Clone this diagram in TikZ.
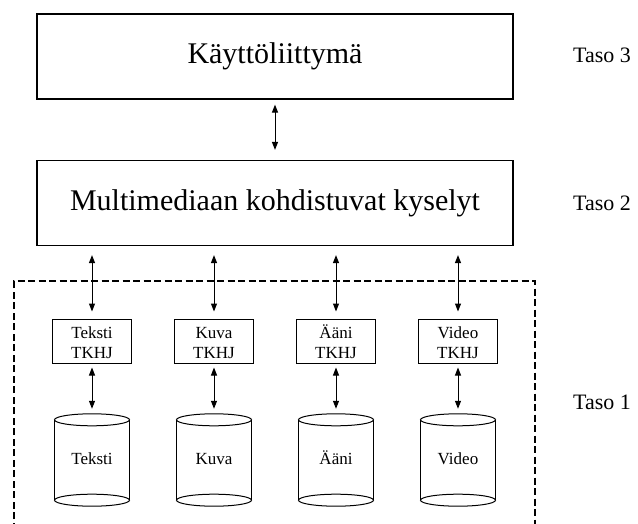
\documentclass[tikz,border=0pt]{standalone}
\usepackage{fontspec}
\setmainfont{Liberation Serif}
\usetikzlibrary{arrows.meta}
\begin{document}
\begin{tikzpicture}[x=1pt,y=-1pt,
  bigbox/.style={draw, line width=1.2pt, minimum width=476pt, minimum height=85pt, inner sep=0pt, font=\fontsize{30}{36}\selectfont},
  tkhj/.style={draw, line width=1pt, minimum width=79pt, minimum height=44pt, inner sep=0pt, align=center, font=\fontsize{17}{20}\selectfont},
  level/.style={anchor=west, inner sep=0pt, font=\fontsize{22}{26}\selectfont},
  arr/.style={{Triangle[length=8pt,width=6pt]}-{Triangle[length=8pt,width=6pt]}, line width=1pt},
  cylbody/.style={minimum width=75pt, minimum height=92pt, inner sep=0pt, text height=12pt, text depth=4pt, font=\fontsize{17}{20}\selectfont},
  cylline/.style={line width=1pt},
  dashbox/.style={line width=2.8pt, dash pattern=on 7pt off 3.5pt}
]
\useasboundingbox (0,0) rectangle (638,524);
\clip (0,0) rectangle (638,524);

% level 3 and 2 boxes
\node[bigbox] (ui) at (275,56.5) {Käyttöliittymä};
\node[bigbox] (mq) at (275,203) {Multimediaan kohdistuvat kyselyt};

% level labels
\node[level] (l3) at (573,55) {Taso 3};
\node[level] (l2) at (573,203) {Taso 2};
\node[level] (l1) at (573,402) {Taso 1};

% dashed level-1 frame
\draw[dashbox] (14,540) -- (14,281) -- (535,281) -- (535,540);

% TKHJ boxes
\newcommand{\hstrut}{\rule{0pt}{15pt}}
\node[tkhj] (t1) at (92,341) {\hstrut Teksti\\TKHJ};
\node[tkhj] (t2) at (214,341) {\hstrut Kuva\\TKHJ};
\node[tkhj] (t3) at (336,341) {\hstrut Ääni\\TKHJ};
\node[tkhj] (t4) at (458,341) {\hstrut Video\\TKHJ};

% cylinders
\node[cylbody] (c1) at (92,460) {Teksti};
\node[cylbody] (c2) at (214,460) {Kuva};
\node[cylbody] (c3) at (336,460) {Ääni};
\node[cylbody] (c4) at (458,460) {Video};
\foreach \c in {c1,c2,c3,c4}{
  \draw[cylline] ([yshift=-6pt]\c.north) ellipse [x radius=37.5pt, y radius=6pt];
  \draw[cylline] ([yshift=6pt]\c.south) ellipse [x radius=37.5pt, y radius=6pt];
  \draw[cylline] ([yshift=-6pt]\c.north west) -- ([yshift=6pt]\c.south west);
  \draw[cylline] ([yshift=-6pt]\c.north east) -- ([yshift=6pt]\c.south east);
}

% connectors
\draw[arr, shorten <=5pt, shorten >=10pt] (ui.south) -- (mq.north);
\foreach \i in {1,2,3,4}{
  \draw[arr, shorten <=9pt, shorten >=7pt] (t\i.north |- mq.south) -- (t\i.north);
  \draw[arr, shorten <=4pt, shorten >=5pt] (t\i.south) -- (c\i.north);
}
\end{tikzpicture}
\end{document}
